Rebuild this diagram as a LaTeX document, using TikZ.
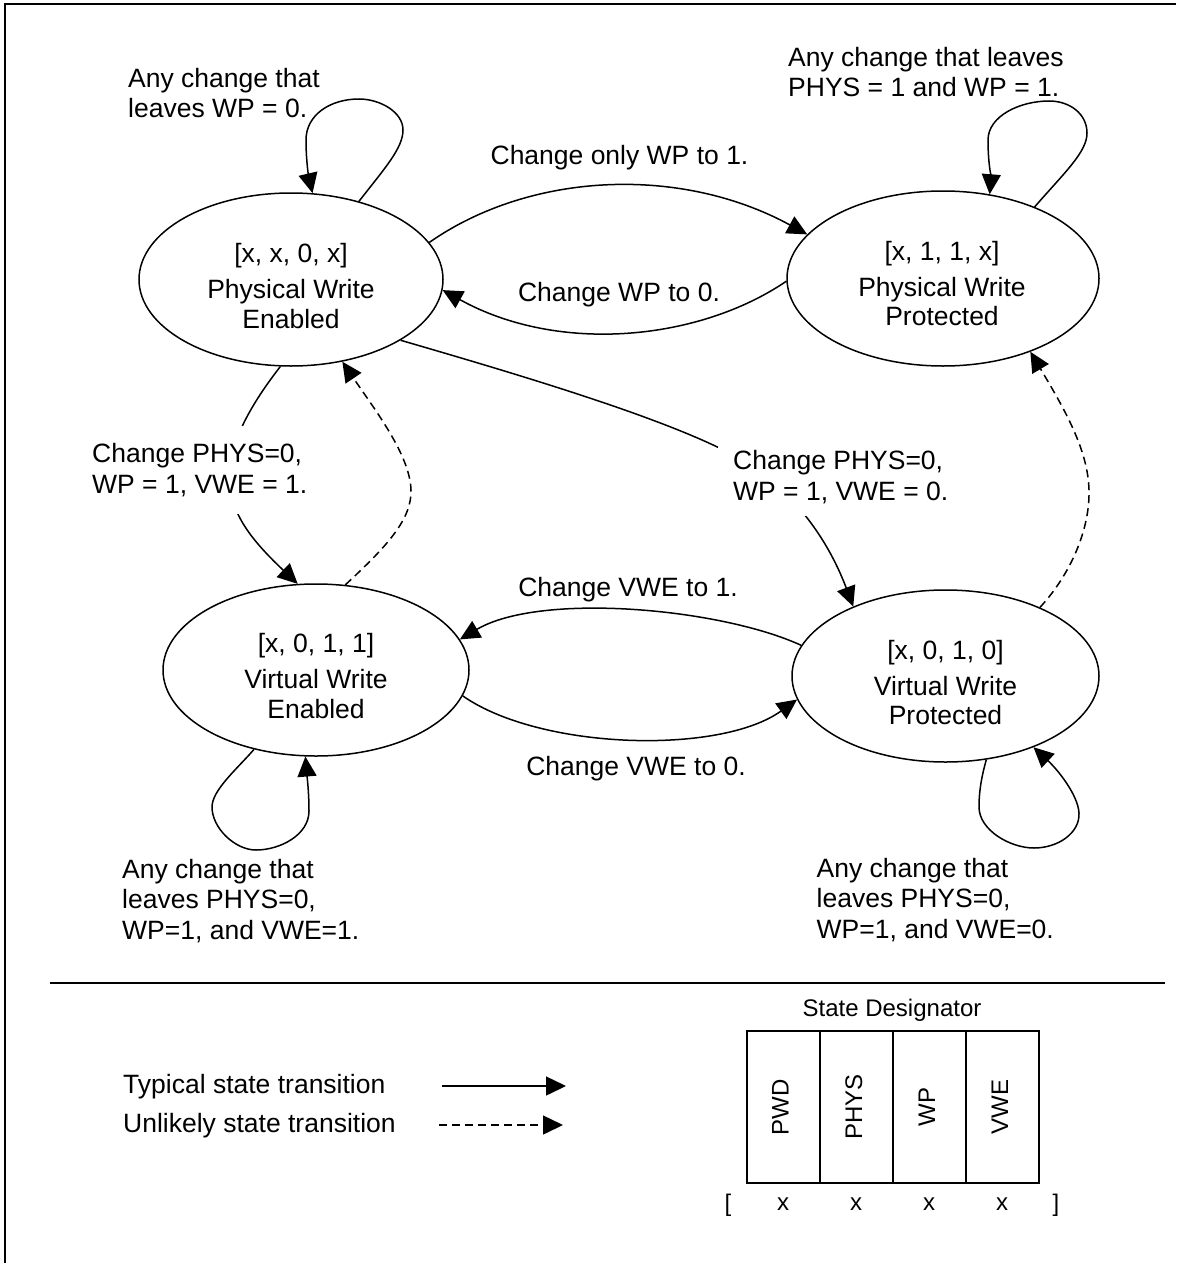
\documentclass[tikz,border=0pt]{standalone}
\usepackage{fontspec}
\setmainfont{Liberation Sans}
\usetikzlibrary{arrows.meta,shapes.geometric}
\tikzset{
  state/.style={draw, ellipse, line width=1.5pt, inner sep=0pt},
  stxt/.style={align=center, inner sep=0pt, font=\fontsize{26.5}{29.5}\selectfont},
  lbl/.style={align=left, anchor=west, inner sep=0pt, font=\fontsize{26.5}{30.5}\selectfont},
  ctr/.style={inner sep=0pt, font=\fontsize{26.5}{30.5}\selectfont},
  mask/.style={lbl, fill=white},
  tr/.style={line width=1.5pt, -{Triangle[length=20pt,width=19pt]}},
  un/.style={tr, dash pattern=on 8pt off 5pt},
  cell/.style={draw, line width=2pt, rotate=90, minimum width=152pt, minimum height=73pt, inner sep=0pt, font=\fontsize{24}{28}\selectfont, text height=17pt, text depth=6pt},
  small/.style={inner sep=0pt, font=\fontsize{24}{28}\selectfont}
}
\begin{document}
\begin{tikzpicture}[x=1pt,y=-1pt]
\useasboundingbox (0,0) rectangle (1176,1263);
% frame
\draw[line width=2pt] (5,1263) -- (5,4) -- (1176,4);

% states
\node[state, minimum width=304pt, minimum height=173pt] (pwe) at (291,279.5) {};
\node[state, minimum width=312pt, minimum height=175pt] (pwp) at (943,278.5) {};
\node[state, minimum width=306pt, minimum height=172pt] (vwe) at (316,670) {};
\node[state, minimum width=307pt, minimum height=172pt] (vwp) at (945.5,676) {};

\node[stxt] (pwe-t) at (291,286) {[x, x, 0, x]\\[6.5pt]Physical Write\\Enabled};
\node[stxt] (pwp-t) at (942,283.5) {[x, 1, 1, x]\\[6.5pt]Physical Write\\Protected};
\node[stxt] (vwe-t) at (316,676) {[x, 0, 1, 1]\\[6.5pt]Virtual Write\\Enabled};
\node[stxt] (vwp-t) at (945.5,682.5) {[x, 0, 1, 0]\\[6.5pt]Virtual Write\\Protected};

% self loops
\draw[tr] (pwe.49) .. controls (385,168) and (403,148) .. (403,130)
  .. controls (403,112) and (380,99) .. (359,99)
  .. controls (330,99) and (306,115) .. (306,140)
  .. controls (306,162) and (309,178) .. (pwe.76);
\draw[tr] (pwp.38) .. controls (1065,172) and (1087,152) .. (1087,133)
  .. controls (1087,114) and (1070,101) .. (1049,101)
  .. controls (1020,101) and (988,116) .. (988,140)
  .. controls (988,162) and (991,178) .. (pwp.61);
\draw[tr] (vwe.232) .. controls (238,768) and (212,790) .. (212,807)
  .. controls (212,828) and (235,850) .. (256,850)
  .. controls (280,850) and (309,835) .. (309,811)
  .. controls (309,792) and (307,776) .. (vwe.263);
\draw[tr] (vwp.296) .. controls (982,775) and (979,790) .. (979,807)
  .. controls (979,830) and (1010,848) .. (1034,848)
  .. controls (1058,848) and (1080,833) .. (1079,813)
  .. controls (1078,795) and (1058,770) .. (vwp.321);

% transitions
\draw[tr] (pwe.15) .. controls (530,172) and (680,165) .. (pwp.162);
\draw[tr] (pwp.181) .. controls (700,340) and (560,355) .. (pwe.356);
\draw[tr] (vwp.168) .. controls (720,608) and (540,592) .. (vwe.12);
\draw[tr] (vwe.350) .. controls (540,750) and (720,755) .. (vwp.189);
\draw[tr] (pwe.263) .. controls (200,470) and (225,515) .. (vwe.102);
\draw[tr] (pwe.331) .. controls (520,375) and (690,425) .. (750,465)
  .. controls (800,498) and (830,545) .. (vwp.143);
\draw[un] (vwe.71) .. controls (385,548) and (412,520) .. (411,490)
  .. controls (410,455) and (375,410) .. (pwe.302);
\draw[un] (vwp.36) .. controls (1070,575) and (1090,530) .. (1089,490)
  .. controls (1088,450) and (1065,410) .. (pwp.320);

% labels
\node[lbl] (l-pwe) at (128,93) {Any change that\\leaves WP = 0.};
\node[lbl] (l-pwp) at (788,72) {Any change that leaves\\PHYS = 1 and WP = 1.};
\node[ctr] (l-wp1) at (619.5,157.5) {Change only WP to 1.};
\node[ctr] (l-wp0) at (619,294.5) {Change WP to 0.};
\node[mask, inner xsep=8pt, inner ysep=17pt] (l-ph1) at (84,470) {Change PHYS=0,\\WP = 1, VWE = 1.};
\node[mask, inner xsep=15pt, inner ysep=12pt] (l-ph0) at (718,477) {Change PHYS=0,\\WP = 1, VWE = 0.};
\node[ctr] (l-v1) at (628,589.5) {Change VWE to 1.};
\node[ctr] (l-v0) at (636,768.5) {Change VWE to 0.};
\node[lbl] (l-vwe) at (122,901) {Any change that\\leaves PHYS=0,\\WP=1, and VWE=1.};
\node[lbl] (l-vwp) at (816.5,900) {Any change that\\leaves PHYS=0,\\WP=1, and VWE=0.};

% divider
\coordinate (d1) at (50,983);
\coordinate (d2) at (1165,983);
\draw[line width=2pt] (d1) -- (d2);

% legend
\node[lbl] (lg1) at (123,1086.5) {Typical state transition};
\node[lbl] (lg2) at (123,1125.5) {Unlikely state transition};
\coordinate (a1) at (442,1086);
\coordinate (a2) at (566,1086);
\coordinate (b1) at (439,1125);
\coordinate (b2) at (563,1125);
\draw[tr] (a1) -- (a2);
\draw[un] (b1) -- (b2);

% state designator
\node[small] (sd) at (892,1010) {State Designator};
\node[cell] (c1) at (783,1107) {PWD};
\node[cell] (c2) at (856.5,1107) {PHYS};
\node[cell] (c3) at (929.5,1107) {WP};
\node[cell] (c4) at (1002.5,1107) {VWE};
\node[small] (bl) at (728,1205) {[};
\node[small] (x1) at (783,1204) {x};
\node[small] (x2) at (856,1204) {x};
\node[small] (x3) at (929,1204) {x};
\node[small] (x4) at (1002,1204) {x};
\node[small] (br) at (1056,1205) {]};
\end{tikzpicture}
\end{document}
